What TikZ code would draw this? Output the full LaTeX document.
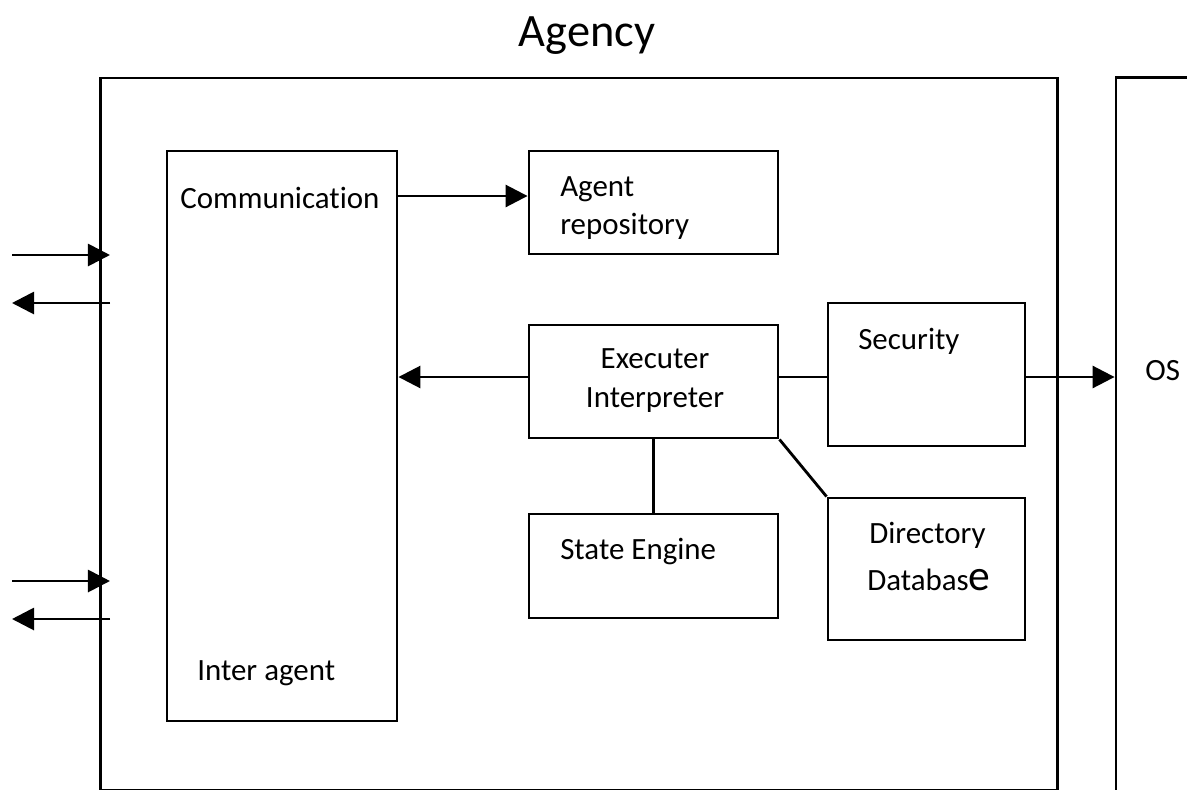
\documentclass[tikz,border=0pt]{standalone}
\usepackage{fontspec}
\setmainfont{Carlito}[Ligatures=NoCommon]
\usetikzlibrary{arrows.meta}

\begin{document}
\begin{tikzpicture}[x=0.025cm,y=-0.025cm,
	box/.style={draw,line width=2pt,rectangle,inner sep=0pt},
	arr/.style={line width=2pt,-{Triangle[length=0.55cm,width=0.55cm]}},
	link/.style={line width=2pt},
	txt/.style={inner sep=0pt,font=\fontsize{22}{27}\selectfont}]
	\useasboundingbox (0,0) rectangle (1187,789);
	\clip (0,0) rectangle (1187,789);
	% outer boxes
	\node[box,minimum width=23.9cm,minimum height=17.8cm] (agency) at (579,434) {};
	\node[box,minimum width=3.5cm,minimum height=19cm] (os) at (1186,458) {};
	\node[inner sep=0pt,anchor=base,font=\fontsize{33}{38}\selectfont] (title) at (587,46) {Agency};
	% inner blocks
	\node[box,minimum width=5.75cm,minimum height=14.25cm] (comm) at (282,436) {};
	\node[box,minimum width=6.225cm,minimum height=2.575cm] (repo) at (653.5,202.5) {};
	\node[box,minimum width=6.225cm,minimum height=2.825cm] (exec) at (653.5,381.5) {};
	\node[box,minimum width=4.925cm,minimum height=3.575cm] (sec) at (926.5,374.5) {};
	\node[box,minimum width=6.225cm,minimum height=2.6cm] (state) at (653.5,566) {};
	\node[box,minimum width=4.925cm,minimum height=3.55cm] (dir) at (926.5,569) {};
	% labels
	\node[txt,anchor=base west] (tcomm) at (180,208) {Communication};
	\node[txt,anchor=base west] (tinter) at (197,680) {Inter agent};
	\node[txt,anchor=base west] (trepo1) at (560,196) {Agent};
	\node[txt,anchor=base west] (trepo2) at (560,234) {repository};
	\node[txt,anchor=base] (texec1) at (655,368) {Executer};
	\node[txt,anchor=base] (texec2) at (655,407) {Interpreter};
	\node[txt,anchor=base west] (tsec) at (858,349) {Security};
	\node[txt,anchor=base west] (tos) at (1145,380) {OS};
	\node[txt,anchor=base west] (tdir1) at (869,543) {Directory};
	\node[txt,anchor=base west] (tdir2) at (867,590) {Databas{\fontsize{31}{31}\selectfont e}};
	\node[txt,anchor=base west] (tstate) at (560,559) {State Engine};
	% connectors
	\draw[arr] (comm.east |- 0,196) -- (repo.west |- 0,196);
	\draw[arr] (exec.west |- 0,377) -- (comm.east |- 0,377);
	\draw[link] (exec.east |- 0,377) -- (sec.west |- 0,377);
	\draw[arr] (sec.east |- 0,377) -- (os.west |- 0,377);
	\draw[link] (exec.south) -- (exec.south |- state.north);
	\draw[link] (exec.south east) -- (dir.north west);
	% ports on the left
	\coordinate (p1a) at (12,255);  \coordinate (p1b) at (110,255);
	\coordinate (p2a) at (110,303); \coordinate (p2b) at (12,303);
	\coordinate (p3a) at (12,581);  \coordinate (p3b) at (110,581);
	\coordinate (p4a) at (110,619); \coordinate (p4b) at (12,619);
	\foreach \a/\b in {p1a/p1b,p2a/p2b,p3a/p3b,p4a/p4b}
		\draw[arr] (\a) -- (\b);
\end{tikzpicture}
\end{document}
